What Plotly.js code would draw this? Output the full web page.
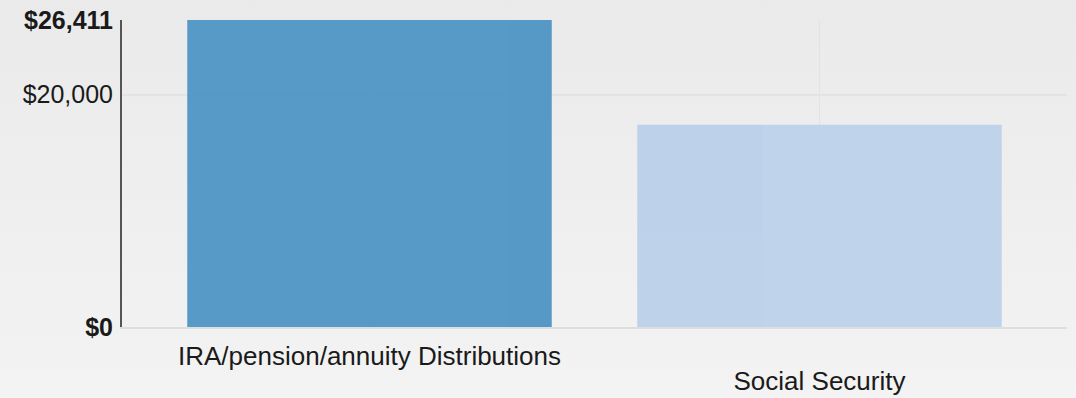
<!DOCTYPE html>
<html>
<head>
<meta charset="utf-8">
<script src="https://cdn.plot.ly/plotly-3.0.1.min.js"></script>
<style>
html,body{margin:0;padding:0;}
body{width:1076px;height:398px;background:linear-gradient(#eaeaea,#f3f3f3);}
#chart{width:1076px;height:398px;}
</style>
</head>
<body>
<div id="chart"></div>
<script>
const categories = ["IRA/pension/annuity Distributions", "Social Security"];
const values = [26411, 17400];
const barColors = ["#5196c5", "#bcd1ea"];
const yTickVals = [0, 20000, 26411];
const yTickText = ["<b>$0</b>", "$20,000", "<b>$26,411</b>"];

const idx = categories.map((c, i) => i);

const traces = [
  {
    type: "bar",
    x: idx,
    y: values,
    marker: {color: barColors, line: {width: 0}},
    opacity: 0.96,
    width: 0.81,
    hoverinfo: "skip",
    xaxis: "x",
    yaxis: "y"
  },
  {
    type: "scatter",
    mode: "markers",
    x: [idx[1]],
    y: [0],
    marker: {opacity: 0},
    hoverinfo: "skip",
    showlegend: false,
    xaxis: "x2",
    yaxis: "y"
  }
];

const xRange = [-0.55, 1.55];
const layout = {
  width: 1076,
  height: 398,
  margin: {l: 122, r: 9, t: 20, b: 71},
  paper_bgcolor: "rgba(0,0,0,0)",
  plot_bgcolor: "rgba(0,0,0,0)",
  showlegend: false,
  font: {family: "Liberation Sans, Arial, sans-serif", color: "#1a1a1a"},
  xaxis: {
    range: xRange,
    tickmode: "array",
    tickvals: [idx[0]],
    ticktext: [categories[0]],
    tickfont: {size: 26, color: "#1a1a1a"},
    ticklabelstandoff: 5,
    showgrid: true,
    gridcolor: "#e3e3e3",
    gridwidth: 1.5,
    showline: true,
    linecolor: "#dedede",
    linewidth: 2,
    ticks: "",
    zeroline: false,
    fixedrange: true
  },
  xaxis2: {
    range: xRange,
    overlaying: "x",
    side: "bottom",
    tickmode: "array",
    tickvals: [idx[1]],
    ticktext: [categories[1]],
    tickfont: {size: 26, color: "#1a1a1a"},
    ticklabelstandoff: 36,
    showgrid: true,
    gridcolor: "#e3e3e3",
    gridwidth: 1.5,
    showline: false,
    ticks: "",
    zeroline: false,
    fixedrange: true
  },
  yaxis: {
    range: [0, 26411],
    tickmode: "array",
    tickvals: yTickVals,
    ticktext: yTickText,
    tickfont: {size: 25, color: "#1a1a1a"},
    ticklabelstandoff: 2,
    showgrid: true,
    gridcolor: "#e3e3e3",
    gridwidth: 2,
    showline: true,
    linecolor: "#555555",
    linewidth: 2,
    ticks: "",
    zeroline: false,
    fixedrange: true
  }
};

Plotly.newPlot("chart", traces, layout, {displayModeBar: false, staticPlot: true});
</script>
</body>
</html>
